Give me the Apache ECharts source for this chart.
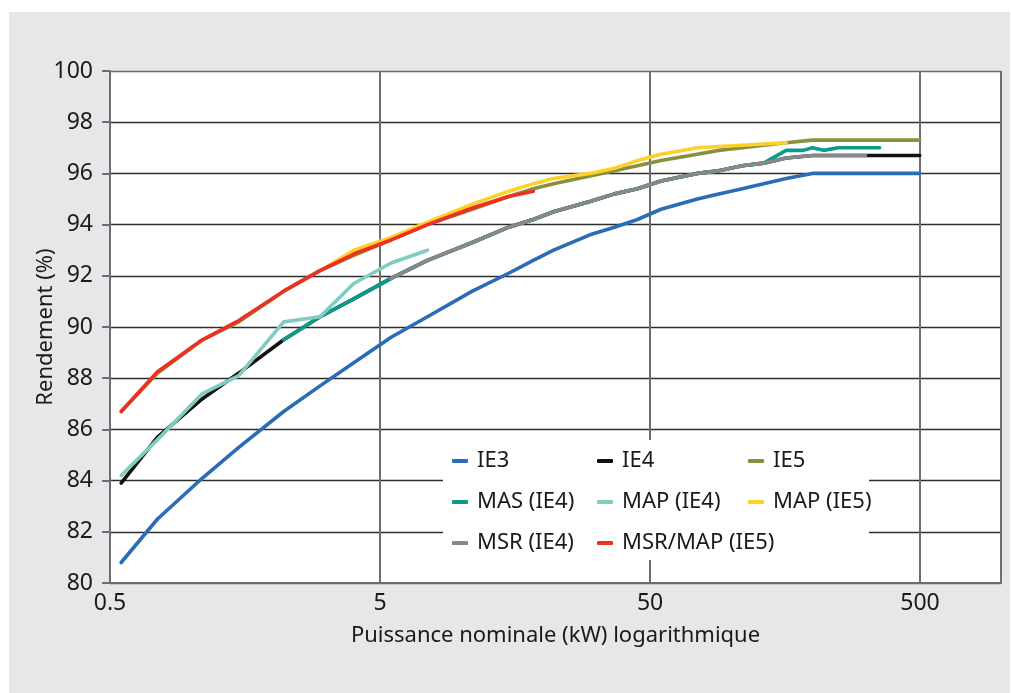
<!DOCTYPE html>
<html>
<head>
<meta charset="utf-8">
<script src="https://cdn.jsdelivr.net/npm/echarts@6/dist/echarts.min.js"></script>
<style>
html,body{margin:0;padding:0;background:#ffffff;width:1011px;height:693px;overflow:hidden}
#c{position:absolute;left:9px;top:12px;width:1001px;height:681px;background:#e6e7e9}
</style>
</head>
<body>
<div id="c"></div>
<script>
// Puissance nominale (kW)
const kW = [0.55, 0.75, 1.1, 1.5, 2.2, 3, 4, 5.5, 7.5, 11, 15, 18.5, 22, 30, 37, 45, 55, 75, 90, 110, 132, 160, 185, 200, 220, 250, 280, 315, 355, 400, 500];

// Rendement (%) — null = pas de point
const ie3 = [80.8, 82.5, 84.1, 85.3, 86.7, 87.7, 88.6, 89.6, 90.4, 91.4, 92.1, 92.6, 93.0, 93.6, 93.9, 94.2, 94.6, 95.0, 95.2, 95.4, 95.6, 95.8, null, 96.0, null, 96.0, null, 96.0, 96.0, 96.0, 96.0];
const ie4 = [83.9, 85.7, 87.2, 88.2, 89.5, 90.4, 91.1, 91.9, 92.6, 93.3, 93.9, 94.2, 94.5, 94.9, 95.2, 95.4, 95.7, 96.0, 96.1, 96.3, 96.4, 96.6, null, 96.7, null, 96.7, null, 96.7, 96.7, 96.7, 96.7];
const ie5 = [86.7, 88.2, 89.5, 90.2, 91.4, 92.2, 92.8, 93.4, 94.0, 94.6, 95.1, 95.4, 95.6, 95.9, 96.1, 96.3, 96.5, 96.75, 96.9, 97.0, 97.1, 97.2, null, 97.3, null, 97.3, null, 97.3, 97.3, 97.3, 97.3];
const masIE4 = [null, null, null, null, 89.5, 90.4, 91.1, 91.9, 92.6, 93.3, 93.9, 94.2, 94.5, 94.9, 95.2, 95.4, 95.7, 96.0, 96.1, 96.3, 96.4, 96.9, 96.9, 97.0, 96.9, 97.0, 97.0, 97.0, 97.0, null, null];
const mapIE4 = [84.2, 85.6, 87.4, 88.1, 90.2, 90.4, 91.7, 92.5, 93.0, null, null, null, null, null, null, null, null, null, null, null, null, null, null, null, null, null, null, null, null, null, null];
const mapIE5 = [null, null, null, null, null, 92.2, 93.0, 93.5, 94.1, 94.8, 95.3, 95.6, 95.8, 96.0, 96.2, 96.5, 96.75, 97.0, 97.05, 97.1, 97.15, 97.2, null, null, null, null, null, null, null, null, null];
const msrIE4 = [null, null, null, null, null, null, null, 91.9, 92.6, 93.3, 93.9, 94.2, 94.5, 94.9, 95.2, 95.4, 95.7, 96.0, 96.1, 96.3, 96.4, 96.6, null, 96.7, null, 96.7, null, 96.7, null, null, null];
const msrMapIE5 = [86.7, 88.25, 89.5, 90.25, 91.4, 92.2, 92.85, 93.4, 94.0, 94.65, 95.1, 95.3, null, null, null, null, null, null, null, null, null, null, null, null, null, null, null, null, null, null, null];

const seriesNames = ['IE3', 'IE4', 'IE5', 'MAS (IE4)', 'MAP (IE4)', 'MAP (IE5)', 'MSR (IE4)', 'MSR/MAP (IE5)'];
const seriesValues = [ie3, ie4, ie5, masIE4, mapIE4, mapIE5, msrIE4, msrMapIE5];
const seriesColors = ['#2a6cb6', '#111111', '#8a8f3e', '#0b9c89', '#82cbc1', '#fdd126', '#87888a', '#ec3025'];

// Axis tick labels
const xTickLabels = ['0.5', '5', '50', '500'];
const yTicks = [80, 82, 84, 86, 88, 90, 92, 94, 96, 98, 100];

const legendColumns = [
  ['IE3', 'MAS (IE4)', 'MSR (IE4)'],
  ['IE4', 'MAP (IE4)', 'MSR/MAP (IE5)'],
  ['IE5', 'MAP (IE5)']
];

const FONT = '"Noto Sans", sans-serif';
const TXT = '#1a1a1a';
const AX = '#6d6e71';

function toPairs(vals) {
  const out = [];
  kW.forEach((k, i) => { if (vals[i] != null) out.push([k, vals[i]]); });
  return out;
}

const chart = echarts.init(document.getElementById('c'), null, { renderer: 'canvas' });

const option = {
  animation: false,
  backgroundColor: 'transparent',
  textStyle: { fontFamily: FONT, color: TXT },
  grid: {
    left: 101, right: 9, top: 59, bottom: 110,
    show: true, backgroundColor: '#ffffff', borderWidth: 0
  },
  xAxis: {
    type: 'log',
    logBase: 10,
    min: 0.5,
    max: 1000,
    interval: 1,
    name: 'Puissance nominale (kW) logarithmique',
    nameLocation: 'middle',
    nameGap: 42,
    nameMoveOverlap: false,
    nameTextStyle: { fontFamily: FONT, fontSize: 22, color: TXT },
    axisLine: { show: true, onZero: false, lineStyle: { color: AX, width: 2 } },
    axisTick: { show: false },
    axisLabel: {
      fontFamily: FONT, fontSize: 23, color: TXT, margin: 9,
      interval: 0,
      showMaxLabel: false,
      formatter: function (v, idx) {
        return idx < xTickLabels.length ? xTickLabels[idx] : '';
      }
    },
    splitLine: { show: true, lineStyle: { color: AX, width: 2 } },
    minorTick: { show: false },
    minorSplitLine: { show: false }
  },
  yAxis: {
    type: 'value',
    min: yTicks[0],
    max: yTicks[yTicks.length - 1],
    interval: 2,
    name: 'Rendement (%)',
    nameLocation: 'middle',
    nameGap: 53,
    nameMoveOverlap: false,
    nameRotate: 90,
    nameTextStyle: { fontFamily: FONT, fontSize: 22, color: TXT },
    axisLine: { show: true, lineStyle: { color: AX, width: 2 } },
    axisTick: { show: true, inside: false, length: 8, lineStyle: { color: AX, width: 2 } },
    axisLabel: { fontFamily: FONT, fontSize: 23, color: TXT, margin: 17 },
    splitLine: {
      show: true,
      lineStyle: {
        color: [AX, '#2e2e2e', '#2e2e2e', '#2e2e2e', '#2e2e2e', '#2e2e2e', '#2e2e2e', '#2e2e2e', '#2e2e2e', '#2e2e2e', AX],
        width: 1.3
      }
    }
  },
  legend: legendColumns.map((col, i) => ({
    data: col,
    orient: 'vertical',
    left: [443, 588, 739][i],
    top: 438,
    padding: 0,
    itemWidth: 16,
    itemHeight: 4,
    icon: 'roundRect',
    itemGap: 19,
    selectedMode: false,
    textStyle: { fontFamily: FONT, fontSize: 22, lineHeight: 20, color: TXT, padding: [0, 0, 0, 4] }
  })),
  graphic: [{
    type: 'rect',
    left: 434, top: 428,
    z: 1,
    shape: { width: 426, height: 120 },
    style: { fill: '#ffffff' },
    silent: true
  }],
  series: seriesNames.map((name, i) => ({
    name: name,
    type: 'line',
    data: toPairs(seriesValues[i]),
    color: seriesColors[i],
    showSymbol: false,
    symbol: 'none',
    smooth: false,
    lineStyle: { color: seriesColors[i], width: 3.6, cap: 'round', join: 'round' },
    itemStyle: { color: seriesColors[i] },
    emphasis: { disabled: true },
    z: 2 + i * 0.01
  }))
};

chart.setOption(option);
</script>
</body>
</html>
